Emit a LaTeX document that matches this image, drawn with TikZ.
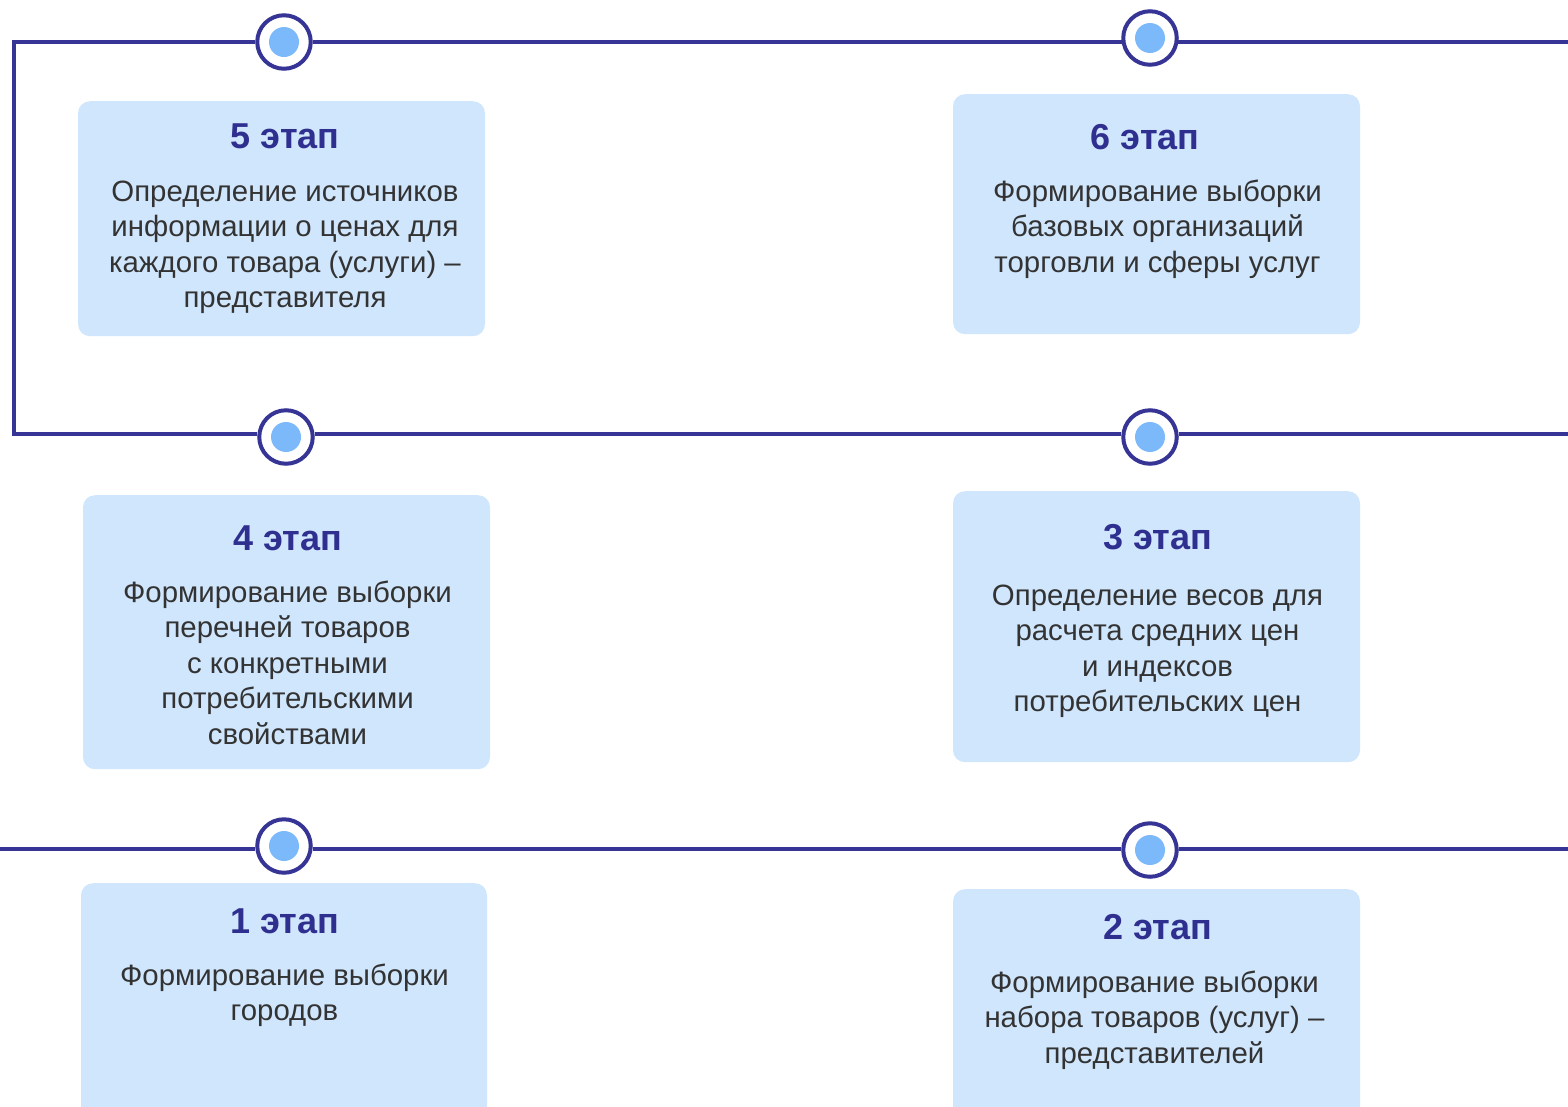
\documentclass[tikz,border=0pt]{standalone}
\usepackage{fontspec}
\setmainfont{Liberation Sans}
\definecolor{trackblue}{HTML}{363494}
\definecolor{dotblue}{HTML}{7CB9FB}
\definecolor{boxblue}{HTML}{D0E6FD}
\definecolor{titleblue}{HTML}{2F2F8F}
\definecolor{bodygray}{HTML}{333333}
\begin{document}
\begin{tikzpicture}[x=1pt,y=-1pt,
	track/.style={draw=trackblue,line width=4pt},
	stagedot/.style={circle,draw=trackblue,fill=white,line width=4pt,minimum size=53.5pt,inner sep=0pt,
		path picture={\fill[dotblue] (path picture bounding box.center) circle (15pt);}},
	stagebox/.style={fill=boxblue,rounded corners=12pt,inner sep=0pt,anchor=north},
	stagetitle/.style={text=titleblue,font=\fontsize{36}{43}\selectfont\bfseries,anchor=base,inner sep=0pt},
	stagetext/.style={text=bodygray,font=\fontsize{29.4}{35.5}\selectfont,align=center,anchor=north,inner sep=0pt}]
\clip (0,0) rectangle (1568,1106);

% stage boxes
\foreach \n/\x/\y/\w/\h/\tx/\ty/\bx/\by/\txt in {%
5/281.5/101/407/235/285/148/285/201/{Определение источников\\информации о ценах для\\каждого товара (услуги) –\\представителя},%
6/1156.5/94/407/240/1145/149/1157.5/201/{Формирование выборки\\базовых организаций\\торговли и сферы услуг},%
4/286.5/495/407/274/287.5/550/287.5/602/{Формирование выборки\\перечней товаров\\с конкретными\\потребительскими\\свойствами},%
3/1156.5/491/407/271/1157.5/549/1157.5/605/{Определение весов для\\расчета средних цен\\и индексов\\потребительских цен},%
1/284/883/406/250/284.5/933/284.5/985/{Формирование выборки\\городов},%
2/1156.5/889/407/250/1157.5/939/1154.5/992/{Формирование выборки\\набора товаров (услуг) –\\представителей}%
}{
	\node[stagebox,minimum width=\w pt,minimum height=\h pt] (box\n) at (\x,\y) {};
	\node[stagetitle] (title\n) at (\tx,\ty) {\n{} этап};
	\node[stagetext] (body\n) at (\bx,\by-28) {\rule{0pt}{28pt}\txt};
}

% timeline
\coordinate (botL) at (0,849);
\coordinate (botR) at (1568,849);
\coordinate (midR) at (1568,434);
\coordinate (cornerB) at (14,434);
\coordinate (cornerT) at (14,42);
\coordinate (topR) at (1568,42);

\node[stagedot] (dot1) at (284,846) {};
\node[stagedot] (dot2) at (1150,850) {};
\node[stagedot] (dot3) at (1150,437) {};
\node[stagedot] (dot4) at (286,437) {};
\node[stagedot] (dot5) at (284,42) {};
\node[stagedot] (dot6) at (1150,38) {};

% lines meet the circles where the track crosses them
\draw[track] (botL) -- (dot1.186 |- botL);
\draw[track] (dot1.354 |- botL) -- (dot2.178 |- botL);
\draw[track] (dot2.2 |- botL) -- (botR);
\draw[track] (midR) -- (dot3.6 |- midR);
\draw[track] (dot3.174 |- midR) -- (dot4.6 |- midR);
\draw[track] (dot4.174 |- midR) -- (cornerB) -- (cornerT) -- (dot5.west);
\draw[track] (dot5.east) -- (dot6.188 |- topR);
\draw[track] (dot6.352 |- topR) -- (topR);
\end{tikzpicture}
\end{document}
